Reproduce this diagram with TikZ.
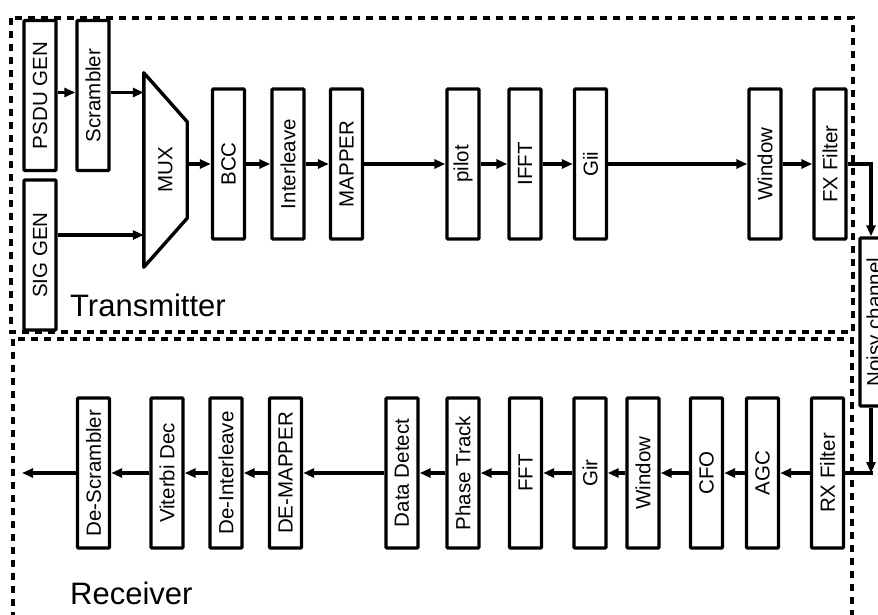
\documentclass[tikz,border=0pt]{standalone}
\usepackage{fontspec}
\setmainfont{Liberation Sans}
\usetikzlibrary{arrows.meta,positioning}
\tikzset{blk/.style={draw, line width=3.4pt, rounded corners=1pt, fill=white, minimum width=32pt, minimum height=150pt, inner sep=0pt, font=\fontsize{20.5}{24}\selectfont}}
\tikzset{flow/.style={line width=3.2pt, -{Triangle[length=11pt,width=9pt]}}}
\tikzset{wire/.style={line width=3.2pt}}
\tikzset{zone/.style={draw, line width=3.3pt, dash pattern=on 7pt off 6pt}}
\tikzset{zonename/.style={font=\fontsize{31}{36}\selectfont, anchor=base west, inner sep=0pt}}
\newcommand{\vlbl}[1]{\rotatebox{90}{#1}}

\begin{document}
\begin{tikzpicture}[x=1pt, y=-1pt]
            \useasboundingbox (0,0) rectangle (878,615);
            \clip (0,0) rectangle (878,615);
            % the two halves
            \draw [style=zone] (11,18) rectangle (853,332);
            \draw [style=zone] (13,339) rectangle (852,650);
            \node [style=zonename] (txname) at (70,316) {Transmitter};
            \node [style=zonename] (rxname) at (70,604) {Receiver};

            % transmitter
            \node [style=blk] (psdu) at (40,95.5) {\vlbl{PSDU GEN}};
            \node [style=blk] (scr) at (93,95.5) {\vlbl{Scrambler}};
            \node [style=blk] (sig) at (40,255) {\vlbl{SIG GEN}};
            \node [inner sep=0pt, minimum width=43pt, minimum height=194pt, font=\fontsize{20.5}{24}\selectfont] (mux) at (165.5,170) {\vlbl{MUX}};
            \draw [line width=3.4pt, line join=round] (mux.north west) -- ([yshift=-49pt]mux.north east) -- ([yshift=49pt]mux.south east) -- (mux.south west) -- cycle;
            \node [style=blk] (bcc) at (228.5,164) {\vlbl{BCC}};
            \node [style=blk] (ilv) at (288,164) {\vlbl{Interleave}};
            \node [style=blk] (map) at (346.5,164) {\vlbl{MAPPER}};
            \node [style=blk] (pilot) at (463,164) {\vlbl{pilot}};
            \node [style=blk] (ifft) at (525,164) {\vlbl{IFFT}};
            \node [style=blk] (gii) at (590.5,164) {\vlbl{Gii}};
            \node [style=blk] (twin) at (765,164) {\vlbl{Window}};
            \node [style=blk] (fx) at (830,164) {\vlbl{FX Filter}};

            % channel
            \node [style=blk, minimum height=168pt] (chan) at (876,322) {\vlbl{Noisy channel}};

            % receiver
            \node [style=blk] (desc) at (93.5,473) {\vlbl{De-Scrambler}};
            \node [style=blk] (vit) at (167,473) {\vlbl{Viterbi Dec}};
            \node [style=blk] (deil) at (226,473) {\vlbl{De-Interleave}};
            \node [style=blk] (demap) at (285.5,473) {\vlbl{DE-MAPPER}};
            \node [style=blk] (dd) at (402,473) {\vlbl{Data Detect}};
            \node [style=blk] (ptr) at (463,473) {\vlbl{Phase Track}};
            \node [style=blk] (fft) at (525.5,473) {\vlbl{FFT}};
            \node [style=blk] (gir) at (590,473) {\vlbl{Gir}};
            \node [style=blk] (rwin) at (643,473) {\vlbl{Window}};
            \node [style=blk] (cfo) at (706.5,473) {\vlbl{CFO}};
            \node [style=blk] (agc) at (762.5,473) {\vlbl{AGC}};
            \node [style=blk] (rxf) at (827.5,473) {\vlbl{RX Filter}};
            \coordinate (out) at (22,473);

            % tx links
            \draw [style=flow] ([yshift=3pt]psdu.east) -- ([yshift=3pt]scr.west);
            \draw [style=flow] ([yshift=3pt]scr.east) -- ([yshift=3pt]scr.east -| mux.west);
            \draw [style=flow] ([yshift=20pt]sig.east) -- ([yshift=20pt]sig.east -| mux.west);
            \draw [style=flow] (mux.east |- bcc.west) -- (bcc.west);
            \draw [style=flow] (bcc) -- (ilv);
            \draw [style=flow] (ilv) -- (map);
            \draw [style=flow] (map) -- (pilot);
            \draw [style=flow] (pilot) -- (ifft);
            \draw [style=flow] (ifft) -- (gii);
            \draw [style=flow] (gii) -- (twin);
            \draw [style=flow] (twin) -- (fx);
            \draw [style=flow] (fx.east) -| ([xshift=-5pt]chan.north);

            % rx links
            \draw [style=flow] ([xshift=-5pt]chan.south) -- ([xshift=-5pt]chan.south |- rxf.east);
            \draw [style=wire] (rxf.east) -- ([xshift=-3pt]chan.south |- rxf.east);
            \draw [style=flow] (rxf) -- (agc);
            \draw [style=flow] (agc) -- (cfo);
            \draw [style=flow] (cfo) -- (rwin);
            \draw [style=flow] (rwin) -- (gir);
            \draw [style=flow] (gir) -- (fft);
            \draw [style=flow] (fft) -- (ptr);
            \draw [style=flow] (ptr) -- (dd);
            \draw [style=flow] (dd) -- (demap);
            \draw [style=flow] (demap) -- (deil);
            \draw [style=flow] (deil) -- (vit);
            \draw [style=flow] (vit) -- (desc);
            \draw [style=flow] (desc) -- (out);
        \end{tikzpicture}
\end{document}
